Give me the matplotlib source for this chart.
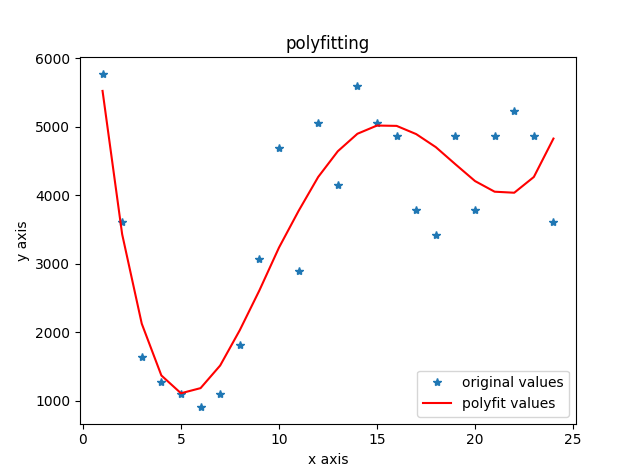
import numpy as np
import matplotlib
matplotlib.use("Agg")
import matplotlib.pyplot as plt

# values
x = np.arange(1, 25)
y = [5770, 3615, 1640, 1275, 1095, 910, 1095, 1815,
     3075, 4690, 2890, 5050, 4150, 5590, 5050, 4865,
     3785, 3420, 4865, 3785, 4865, 5225, 4865, 3615]
y_fit = [5520, 3430, 2125, 1370, 1110, 1185, 1515, 2030,
         2610, 3235, 3770, 4265, 4640, 4895, 5015, 5010,
         4890, 4700, 4450, 4205, 4050, 4035, 4265, 4825]

plt.figure(figsize=(6.4, 4.76), dpi=100)
plt.plot(x, y, '*', label='original values')
plt.plot(x, y_fit, 'r', label='polyfit values')
plt.xlabel('x axis')
plt.ylabel('y axis')
plt.legend(loc=4)
plt.title('polyfitting')
plt.savefig('out.png')
